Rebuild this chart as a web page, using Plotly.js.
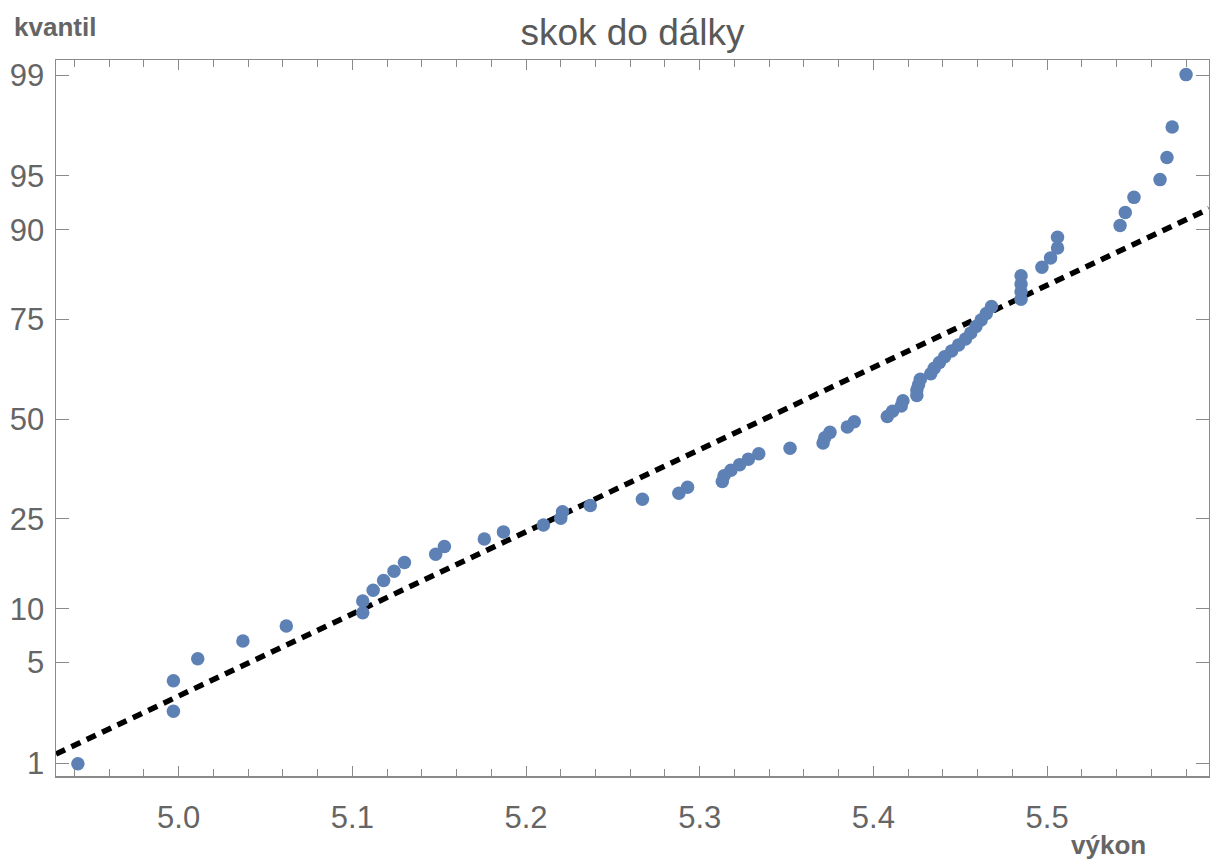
<!DOCTYPE html>
<html>
<head>
<meta charset="utf-8">
<script src="https://cdn.plot.ly/plotly-3.0.1.min.js"></script>
<style>
  html, body { margin: 0; padding: 0; background: #ffffff; }
  #chart { width: 1210px; height: 859px; }
</style>
</head>
<body>
<div id="chart"></div>
<script>
// Long-jump results (m), sorted ascending
const vykon = [
  4.942, 4.997, 4.997, 5.011, 5.037, 5.062, 5.106, 5.106, 5.112, 5.118,
  5.124, 5.130, 5.148, 5.153, 5.176, 5.187, 5.210, 5.220, 5.221, 5.237,
  5.267, 5.288, 5.293, 5.313, 5.314, 5.318, 5.323, 5.328, 5.334, 5.352,
  5.371, 5.372, 5.375, 5.385, 5.389, 5.408, 5.411, 5.416, 5.417, 5.425,
  5.425, 5.426, 5.427, 5.433, 5.435, 5.438, 5.441, 5.445, 5.449, 5.453,
  5.456, 5.459, 5.462, 5.465, 5.468, 5.485, 5.485, 5.485, 5.485, 5.497,
  5.502, 5.506, 5.506, 5.542, 5.545, 5.550, 5.565, 5.569, 5.572, 5.580
];

// Plotting position of each result, in percent
const kvantil = [
  0.99, 2.41, 3.84, 5.26, 6.68, 8.10, 9.52, 10.94, 12.36, 13.78,
  15.20, 16.62, 18.04, 19.46, 20.88, 22.30, 23.72, 25.14, 26.56, 27.98,
  29.40, 30.82, 32.24, 33.66, 35.09, 36.51, 37.93, 39.35, 40.77, 42.19,
  43.61, 45.03, 46.45, 47.87, 49.29, 50.71, 52.13, 53.55, 54.97, 56.39,
  57.81, 59.23, 60.65, 62.07, 63.49, 64.91, 66.34, 67.76, 69.18, 70.60,
  72.02, 73.44, 74.86, 76.28, 77.70, 79.12, 80.54, 81.96, 83.38, 84.80,
  86.22, 87.64, 89.06, 90.48, 91.90, 93.32, 94.74, 96.16, 97.59, 99.01
];

// Fitted normal distribution (mean, standard deviation)
const fitMean = 5.337;
const fitSd = 0.180;

// Axis ticks
const xTicks = [5.0, 5.1, 5.2, 5.3, 5.4, 5.5];
const xTickText = ['5.0', '5.1', '5.2', '5.3', '5.4', '5.5'];
const yTicks = [1, 5, 10, 25, 50, 75, 90, 95, 99];
const yTickText = ['1', '5', '10', '25', '50', '75', '90', '95', '99'];

// Inverse of the standard normal CDF (Acklam's rational approximation)
function probit(p) {
  const a = [-3.969683028665376e+01, 2.209460984245205e+02, -2.759285104469687e+02,
             1.383577518672690e+02, -3.066479806614716e+01, 2.506628277459239e+00];
  const b = [-5.447609879822406e+01, 1.615858368580409e+02, -1.556989798598866e+02,
             6.680131188771972e+01, -1.328068155288572e+01];
  const c = [-7.784894002430293e-03, -3.223964580411365e-01, -2.400758277161838e+00,
             -2.549732539343734e+00, 4.374664141464968e+00, 2.938163982698783e+00];
  const d = [7.784695709041462e-03, 3.224671290700398e-01, 2.445134137142996e+00,
             3.754408661907416e+00];
  const pLow = 0.02425, pHigh = 1 - pLow;
  let q, r;
  if (p < pLow) {
    q = Math.sqrt(-2 * Math.log(p));
    return (((((c[0]*q + c[1])*q + c[2])*q + c[3])*q + c[4])*q + c[5]) /
           ((((d[0]*q + d[1])*q + d[2])*q + d[3])*q + 1);
  }
  if (p <= pHigh) {
    q = p - 0.5; r = q * q;
    return (((((a[0]*r + a[1])*r + a[2])*r + a[3])*r + a[4])*r + a[5]) * q /
           (((((b[0]*r + b[1])*r + b[2])*r + b[3])*r + b[4])*r + 1);
  }
  q = Math.sqrt(-2 * Math.log(1 - p));
  return -(((((c[0]*q + c[1])*q + c[2])*q + c[3])*q + c[4])*q + c[5]) /
          ((((d[0]*q + d[1])*q + d[2])*q + d[3])*q + 1);
}

const xRange = [4.9294, 5.5932];
const yRange = [-2.413, 2.429];

// Probability scale: percent -> normal score
const yScores = kvantil.map(p => probit(p / 100));
const yTickScores = yTicks.map(p => probit(p / 100));

// Fitted line across the full x range, expressed as normal scores
const lineX = xRange.slice();
const lineY = lineX.map(x => (x - fitMean) / fitSd);

const axisGray = '#8a8a8a';
const labelGray = '#656565';

const traces = [
  {
    x: lineX, y: lineY,
    type: 'scatter', mode: 'lines',
    line: { color: '#000000', width: 5.5, dash: '10px,7px' },
    hoverinfo: 'skip', showlegend: false
  },
  {
    x: vykon, y: yScores,
    type: 'scatter', mode: 'markers',
    marker: { color: 'rgb(94,129,181)', size: 13.5, line: { width: 0 } },
    showlegend: false
  }
];

const layout = {
  width: 1210, height: 859,
  margin: { l: 56, r: 1, t: 60, b: 83 },
  paper_bgcolor: '#ffffff',
  plot_bgcolor: '#ffffff',
  showlegend: false,
  title: {
    text: 'skok do dálky',
    x: 0.5, xref: 'paper', xanchor: 'center',
    y: 1 - 32 / 859, yref: 'container', yanchor: 'middle',
    font: { family: 'Liberation Sans, Arial, sans-serif', size: 37, color: '#595959' }
  },
  xaxis: {
    range: xRange,
    tickmode: 'array', tickvals: xTicks, ticktext: xTickText,
    ticks: 'inside', ticklen: 10, tickwidth: 1, tickcolor: axisGray,
    showline: true, linecolor: axisGray, linewidth: 1.5, mirror: 'ticks',
    showgrid: false, zeroline: false,
    minor: { tick0: 5.0, dtick: 0.02, ticks: 'inside', ticklen: 7, tickwidth: 1, tickcolor: axisGray, showgrid: false },
    tickfont: { family: 'Liberation Sans, Arial, sans-serif', size: 31, color: labelGray },
    ticklabelstandoff: 13
  },
  yaxis: {
    range: yRange,
    tickmode: 'array', tickvals: yTickScores, ticktext: yTickText,
    ticks: 'inside', ticklen: 13, tickwidth: 1, tickcolor: axisGray,
    showline: true, linecolor: axisGray, linewidth: 1.5, mirror: 'ticks',
    showgrid: false, zeroline: false,
    tickfont: { family: 'Liberation Sans, Arial, sans-serif', size: 31, color: labelGray },
    ticklabelstandoff: 4
  },
  annotations: [
    {
      text: '<b>kvantil</b>', xref: 'paper', yref: 'paper',
      x: (12 - 56) / 1153, y: (776 - 27) / 716,
      xanchor: 'left', yanchor: 'middle', showarrow: false,
      font: { family: 'Liberation Sans, Arial, sans-serif', size: 26, color: labelGray }
    },
    {
      text: '<b>výkon</b>', xref: 'paper', yref: 'paper',
      x: (1069 - 56) / 1153, y: (776 - 845) / 716,
      xanchor: 'left', yanchor: 'middle', showarrow: false,
      font: { family: 'Liberation Sans, Arial, sans-serif', size: 26, color: labelGray }
    }
  ]
};

Plotly.newPlot('chart', traces, layout, { displayModeBar: false, staticPlot: true });
</script>
</body>
</html>
